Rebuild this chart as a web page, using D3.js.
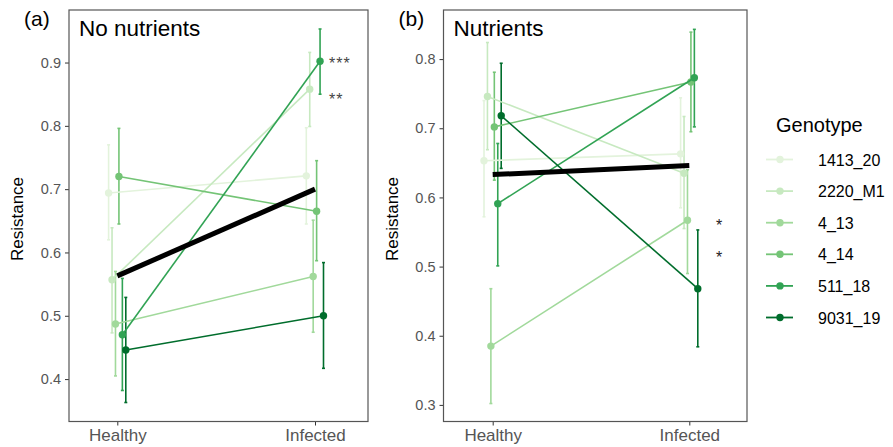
<!DOCTYPE html>
<html lang="en">
<head>
<meta charset="UTF-8">
<title>Resistance by genotype</title>
<style>
  body { margin: 0; background: #fff; }
  text { font-family: "Liberation Sans", Arial, sans-serif; }
</style>
</head>
<body>
<div id="wrapper"></div>
<script src="https://d3js.org/d3.v7.min.js"></script>
<script>
{
  // data
  const genotypes = ['1413_20', '2220_M1', '4_13', '4_14', '511_18', '9031_19'];
  const conditions = ['Healthy', 'Infected'];
  const colours = ['#e3f3dc', '#c7e9c0', '#a1d99b', '#74c476', '#31a354', '#006d2c'];

  // (a) no nutrients: [healthy, infected] per genotype
  const noNutMean = [[0.694, 0.721], [0.557, 0.858], [0.487, 0.562], [0.720, 0.665], [0.470, 0.902], [0.446, 0.500]];
  const noNutLow  = [[0.620, 0.645], [0.473, 0.799], [0.405, 0.474], [0.645, 0.587], [0.382, 0.850], [0.363, 0.417]];
  const noNutHigh = [[0.770, 0.797], [0.639, 0.916], [0.570, 0.651], [0.796, 0.745], [0.559, 0.953], [0.529, 0.584]];
  const noNutOverall = [0.563, 0.700];
  const noNutStars = ['***', '**'];
  const noNutStarY = [0.902, 0.846];

  // (b) nutrients
  const nutMean = [[0.653, 0.663], [0.746, 0.635], [0.385, 0.567], [0.702, 0.767], [0.591, 0.773], [0.718, 0.468]];
  const nutLow  = [[0.572, 0.585], [0.669, 0.555], [0.302, 0.490], [0.625, 0.695], [0.501, 0.702], [0.642, 0.384]];
  const nutHigh = [[0.740, 0.744], [0.824, 0.717], [0.468, 0.640], [0.781, 0.839], [0.678, 0.843], [0.794, 0.553]];
  const nutOverall = [0.633, 0.646];
  const nutStars = ['*', '*'];
  const nutStarY = [0.563, 0.517];

  const width = 893, height = 447;
  const svg = d3.select('#wrapper').append('svg')
      .attr('width', width)
      .attr('height', height);

  const panels = [
    { tag: '(a)', title: 'No nutrients', left: 69, right: 368, xs: [117.3, 315], yDomain: [0.333, 0.983],
      ticks: [0.4, 0.5, 0.6, 0.7, 0.8, 0.9], mean: noNutMean, low: noNutLow, high: noNutHigh,
      overall: noNutOverall, stars: noNutStars, starY: noNutStarY, starX: 329, starColour: '#444' },
    { tag: '(b)', title: 'Nutrients', left: 443.5, right: 747, xs: [492.7, 689.3], yDomain: [0.276, 0.871],
      ticks: [0.3, 0.4, 0.5, 0.6, 0.7, 0.8], mean: nutMean, low: nutLow, high: nutHigh,
      overall: nutOverall, stars: nutStars, starY: nutStarY, starX: 716, starColour: '#222' }
  ];
  const top = 10, bottom = 421.5;

  // offset of each genotype inside its dodge group
  const dodge = d3.scalePoint().domain(genotypes).range([-8.7, 8.5]);
  const colour = d3.scaleOrdinal().domain(genotypes).range(colours);

  panels.forEach(function (p) {
    const x = d3.scalePoint().domain(conditions).range(p.xs);
    const y = d3.scaleLinear().domain(p.yDomain).range([bottom, top]);
    const g = svg.append('g');

    // y axis
    const yAxis = g.append('g')
        .attr('transform', 'translate(' + p.left + ',0)')
        .call(d3.axisLeft(y).tickValues(p.ticks).tickFormat(d3.format('.1f')).tickSize(4).tickPadding(4));
    yAxis.select('.domain').remove();
    yAxis.selectAll('line').attr('stroke', '#333');
    yAxis.selectAll('text').attr('fill', '#555').style('font-size', '14.5px');

    // x axis
    const xAxis = g.append('g')
        .attr('transform', 'translate(0,' + bottom + ')')
        .call(d3.axisBottom(x).tickSize(4).tickPadding(3));
    xAxis.select('.domain').remove();
    xAxis.selectAll('line').attr('stroke', '#333');
    xAxis.selectAll('text').attr('fill', '#555').style('font-size', '17px');

    // panel border
    g.append('rect')
        .attr('x', p.left).attr('y', top)
        .attr('width', p.right - p.left).attr('height', bottom - top)
        .attr('fill', 'none').attr('stroke', '#555').attr('stroke-width', 1.2);

    g.append('text')
        .attr('transform', 'translate(' + (p.left - 46) + ',219) rotate(-90)')
        .attr('text-anchor', 'middle')
        .style('font-size', '17px')
        .text('Resistance');

    g.append('text')
        .attr('x', p.left - 45).attr('y', 26)
        .style('font-size', '21px')
        .text(p.tag);

    g.append('text')
        .attr('x', p.left + 10).attr('y', 36)
        .style('font-size', '22.5px')
        .text(p.title);

    const rows = genotypes.map(function (name, i) {
      return conditions.map(function (c, j) {
        return { name: name, cx: x(c) + dodge(name), m: p.mean[i][j], lo: p.low[i][j], hi: p.high[i][j] };
      });
    });

    // error bars
    rows.forEach(function (r) {
      const col = colour(r[0].name);
      const eb = g.append('g').attr('stroke', col).attr('stroke-width', 1.6);
      r.forEach(function (d) {
        eb.append('line').attr('x1', d.cx).attr('x2', d.cx).attr('y1', y(d.lo)).attr('y2', y(d.hi));
        eb.append('line').attr('x1', d.cx - 1.5).attr('x2', d.cx + 1.5).attr('y1', y(d.lo)).attr('y2', y(d.lo));
        eb.append('line').attr('x1', d.cx - 1.5).attr('x2', d.cx + 1.5).attr('y1', y(d.hi)).attr('y2', y(d.hi));
      });
    });

    // genotype lines and points
    const line = d3.line().x(function (d) { return d.cx; }).y(function (d) { return y(d.m); });
    rows.forEach(function (r) {
      const col = colour(r[0].name);
      g.append('path').datum(r)
          .attr('d', line)
          .attr('fill', 'none')
          .attr('stroke', col)
          .attr('stroke-width', 1.6);
      g.selectAll(null).data(r).enter().append('circle')
          .attr('cx', function (d) { return d.cx; })
          .attr('cy', function (d) { return y(d.m); })
          .attr('r', 3.7)
          .attr('fill', col);
    });

    // overall mean
    g.append('path')
        .datum(conditions.map(function (c, j) { return [x(c), y(p.overall[j])]; }))
        .attr('d', d3.line())
        .attr('stroke', '#000')
        .attr('stroke-width', 5)
        .attr('fill', 'none');

    // significance stars
    g.selectAll(null).data(p.stars).enter().append('text')
        .attr('x', p.starX)
        .attr('y', function (d, i) { return y(p.starY[i]) + 8; })
        .attr('fill', p.starColour)
        .style('font-size', '16px')
        .style('letter-spacing', '1px')
        .text(function (d) { return d; });
  });

  // legend
  const legend = svg.append('g').attr('transform', 'translate(776,0)');
  legend.append('text')
      .attr('x', 0).attr('y', 132)
      .style('font-size', '20px')
      .text('Genotype');
  const key = legend.selectAll('g.key').data(genotypes).enter().append('g')
      .attr('class', 'key')
      .attr('transform', function (d, i) { return 'translate(0,' + (159.5 + i * 31.6) + ')'; });
  key.append('line')
      .attr('x1', -10).attr('x2', 17)
      .attr('stroke', function (d) { return colour(d); })
      .attr('stroke-width', 1.8);
  key.append('circle')
      .attr('cx', 4).attr('r', 3.7)
      .attr('fill', function (d) { return colour(d); });
  key.append('text')
      .attr('x', 42).attr('y', 6)
      .style('font-size', '16px')
      .text(function (d) { return d; });
}
</script>
</body>
</html>
